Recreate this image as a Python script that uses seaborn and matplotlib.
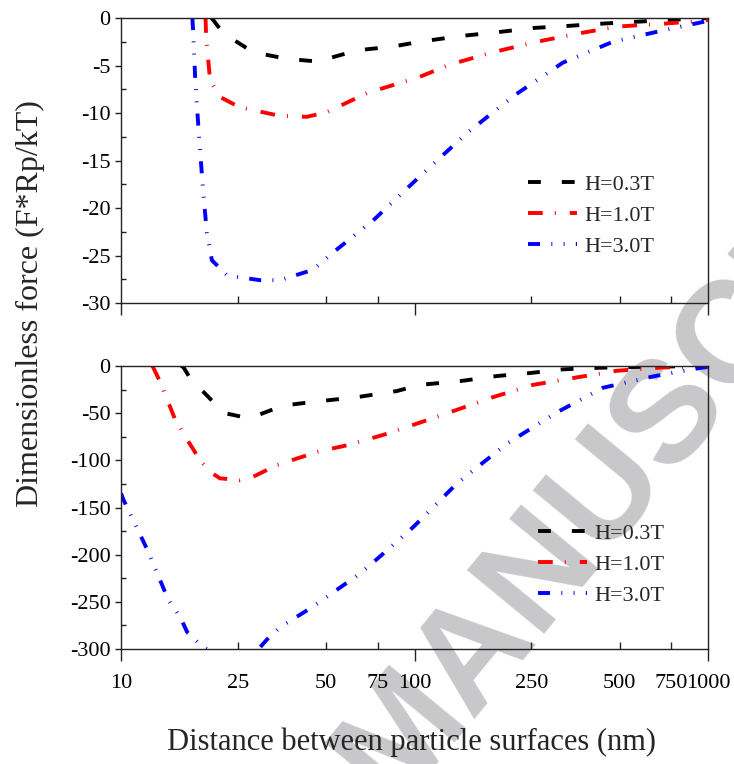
import numpy as np
import matplotlib
matplotlib.use('Agg')
import matplotlib.pyplot as plt
from matplotlib.ticker import FixedLocator, FuncFormatter, MultipleLocator, AutoMinorLocator
import seaborn as sns

sns.set_style('ticks')
plt.rcParams['font.family'] = ['Liberation Serif', 'DejaVu Serif']
plt.rcParams['axes.unicode_minus'] = False

# ── data ─────────────────────────────────────────────────
labels = ['H=0.3T', 'H=1.0T', 'H=3.0T']
colors = ['black', '#ff0000', '#0000ff']
# dash patterns, in units of line width
styles = [(0, (3.3, 5.4)),
          (0, (3.8, 3.1, 0.25, 3.6)),
          (0, (3.1, 2.9, 0.25, 2.9, 0.25, 2.9))]

# top panel (0 .. -30)
x_top_03 = [20.3, 20.6, 22.3, 28.2, 36.8, 47.7, 50.3, 63.7, 84.5, 104, 143, 191, 253, 326, 429, 564, 741, 1000]
y_top_03 = [0, -0.2, -1.6, -3.6, -4.3, -4.6, -4.3, -3.4, -3.0, -2.5, -1.9, -1.5, -1.05, -0.85, -0.6, -0.4, -0.2, 0]

x_top_10 = [19.4, 19.5, 20.1, 21.7, 25.4, 34.8, 43.0, 50.3, 68.9, 104, 132, 185, 261, 366, 490, 703, 940, 1000]
y_top_10 = [0, -2.0, -6.5, -8.3, -9.4, -10.3, -10.4, -9.9, -7.9, -6.2, -4.9, -3.6, -2.5, -1.6, -0.9, -0.6, -0.3, -0.2]

x_top_30 = [17.5, 17.6, 17.9, 18.4, 19.0, 19.6, 20.4, 23.0, 29.8, 34.8, 45.1, 52.7, 72.3, 104, 151, 220, 320, 474, 703, 869, 1000]
y_top_30 = [0, -1.3, -6.5, -12.1, -17.8, -22.6, -25.5, -27.1, -27.6, -27.6, -26.5, -24.7, -21.3, -16.7, -12.1, -8.1, -4.7, -2.5, -1.3, -0.7, -0.3]

# bottom panel (0 .. -300)
x_bot_03 = [16.0, 16.3, 17.2, 20.9, 22.6, 26.9, 29.3, 35.6, 45.1, 63.7, 87.1, 104, 143, 191, 248, 320, 429, 555, 940]
y_bot_03 = [0, -1, -13, -40, -50, -55, -52, -42, -38, -33, -26.5, -20, -16, -10.6, -7.4, -3.5, -1.8, -1, 0]

x_bot_10 = [12.8, 13.6, 15.3, 16.8, 18.6, 20.1, 21.7, 25.4, 27.5, 34.0, 46.6, 58.9, 78.2, 102, 132, 185, 253, 358, 490, 703, 940, 1000]
y_bot_10 = [0, -17, -57, -78, -100, -112, -119, -121, -119, -105, -91, -84, -73, -61, -49, -33, -20, -12, -5, -1.5, -1, -0.5]

x_bot_30 = [10, 10.2, 12.3, 14.5, 15.9, 16.8, 19.0, 23.5, 29.8, 31.4, 34.8, 45.1, 65.2, 76.2, 98.8, 140, 207, 306, 439, 650, 940, 1000]
y_bot_30 = [-135, -142, -195, -248, -266, -282, -298, -312, -298, -290, -277, -255, -220, -202, -171, -124, -82, -49, -23, -11, -2, -1]

x_ticks_major = [10, 100, 1000]
x_ticks_minor = [25, 50, 75, 250, 500, 750]

LW = 2.8
FS = 16
AXC = '#222222'

fig = plt.figure(figsize=(7.34, 7.64), dpi=100)

# watermark behind the axes
fig.text(0.535, -0.056, 'MANUSCRIPT', rotation=50.5, rotation_mode='anchor',
         ha='left', va='baseline', fontsize=104, fontweight='bold',
         family='Liberation Sans', color='#c8c8ca', zorder=-1)

ax_top = fig.add_axes([0.1649, 0.6034, 0.7997, 0.3730])
ax_bot = fig.add_axes([0.1649, 0.1505, 0.7997, 0.3704])

panels = [
    (ax_top, [(x_top_03, y_top_03), (x_top_10, y_top_10), (x_top_30, y_top_30)],
     (-30, 0), 5, (0.693, 0.452)),
    (ax_bot, [(x_bot_03, y_bot_03), (x_bot_10, y_bot_10), (x_bot_30, y_bot_30)],
     (-300, 0), 50, (0.710, 0.445)),
]

int_fmt = FuncFormatter(lambda v, p: f'{int(round(v))}')

for ax, series, ylim, ystep, leg_anchor in panels:
    ax.set_facecolor('none')
    for (xs, ys), lab, col, ls in zip(series, labels, colors, styles):
        sns.lineplot(x=xs, y=ys, ax=ax, color=col, linewidth=LW, linestyle=ls,
                     estimator=None, sort=False, label=lab)
    ax.set_xscale('log')
    ax.set_xlim(10, 1000)
    ax.set_ylim(*ylim)

    ax.xaxis.set_major_locator(FixedLocator(x_ticks_major))
    ax.xaxis.set_minor_locator(FixedLocator(x_ticks_minor))
    ax.xaxis.set_major_formatter(int_fmt)
    ax.xaxis.set_minor_formatter(int_fmt)
    ax.yaxis.set_major_locator(MultipleLocator(ystep))
    ax.yaxis.set_minor_locator(AutoMinorLocator(2))
    ax.yaxis.set_major_formatter(int_fmt)

    ax.tick_params(axis='x', which='major', direction='out', length=8.6, width=1,
                   pad=9.5, labelsize=FS, color=AXC, labelcolor='black',
                   bottom=True, top=False)
    ax.tick_params(axis='x', which='minor', direction='in', length=5, width=1,
                   pad=18, labelsize=FS, color=AXC, labelcolor='black',
                   bottom=True, top=False)
    ax.tick_params(axis='y', which='major', direction='out', length=4, width=1,
                   pad=3.6, labelsize=FS, color=AXC, labelcolor='black',
                   left=True, right=False)
    ax.tick_params(axis='y', which='minor', direction='in', length=3.6, width=1,
                   color=AXC, left=True, right=False)
    for s in ax.spines.values():
        s.set_visible(True)
        s.set_linewidth(1.0)
        s.set_color(AXC)
    ax.set_xlabel('')
    ax.set_ylabel('')

    ax.legend(loc='upper left', bbox_to_anchor=leg_anchor, frameon=False,
              fontsize=FS, handlelength=2.2, handletextpad=0.36,
              labelspacing=0.48, borderpad=0, borderaxespad=0)

ax_top.tick_params(axis='x', which='both', labelbottom=False)

fig.text(0.041, 0.603, 'Dimensionless force (F*Rp/kT)', rotation=90,
         ha='center', va='center', fontsize=23)
fig.text(0.561, 0.029, 'Distance between particle surfaces (nm)',
         ha='center', va='center', fontsize=22)

plt.savefig('out.png', dpi=100)
plt.close()
